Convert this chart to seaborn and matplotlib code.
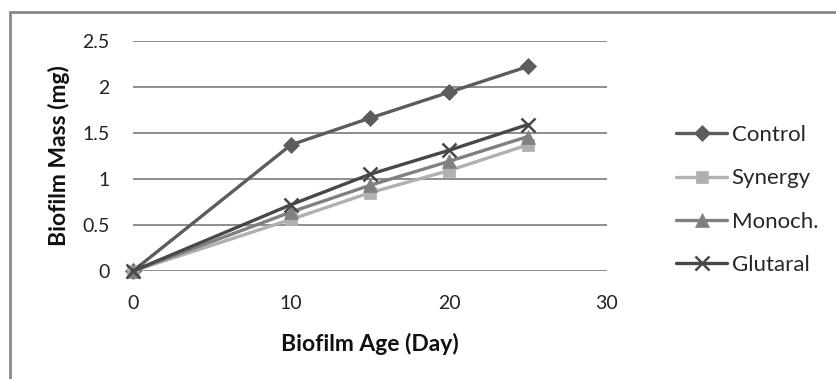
import matplotlib
matplotlib.use("Agg")
import matplotlib.pyplot as plt
from matplotlib.patches import Rectangle
import seaborn as sns
import pandas as pd

days = [0, 10, 15, 20, 25]
control = [0, 1.37, 1.66, 1.94, 2.22]
synergy = [0, 0.56, 0.85, 1.09, 1.37]
monoch = [0, 0.64, 0.93, 1.19, 1.46]
glutaral = [0, 0.72, 1.05, 1.31, 1.59]
series_names = ["Control", "Synergy", "Monoch.", "Glutaral"]

sns.set_theme(style="white")
plt.rcParams['font.family'] = ['Lato', 'DejaVu Sans']

df = pd.concat([
    pd.DataFrame({"Day": days, "Mass": vals, "Series": name})
    for name, vals in zip(series_names, [control, synergy, monoch, glutaral])
])

colors = {"Control": "#5c5c5c", "Synergy": "#b0b0b0", "Monoch.": "#808080", "Glutaral": "#484848"}
markers = {"Control": "D", "Synergy": "s", "Monoch.": "^", "Glutaral": "x"}
msizes = {"Control": 8.5, "Synergy": 9, "Monoch.": 10, "Glutaral": 10}

fig = plt.figure(figsize=(8.36, 3.79), dpi=100)
ax = fig.add_axes([133/836, 1-271/379, (607-133)/836, (271-40.7)/379])

for name in series_names:
    sub = df[df["Series"] == name]
    sns.lineplot(data=sub, x="Day", y="Mass", ax=ax, color=colors[name],
                 marker=markers[name], markersize=msizes[name], linewidth=2.4,
                 markeredgewidth=1.8 if name == "Glutaral" else 0.5,
                 markeredgecolor=colors[name], label=name, clip_on=False)

ax.set_xlim(0, 30)
ax.set_ylim(0, 2.5)
ax.set_xticks([0, 10, 20, 30])
ax.set_yticks([0, 0.5, 1, 1.5, 2, 2.5])
ax.set_yticklabels(["0", "0.5", "1", "1.5", "2", "2.5"])
ax.grid(axis="y", color="#7a7a7a", linewidth=1.2)
ax.grid(axis="x", visible=False)
for s in ax.spines.values():
    s.set_visible(False)
ax.tick_params(axis="both", length=0, labelsize=14, colors="#222222")
ax.tick_params(axis="y", pad=17)
ax.tick_params(axis="x", pad=17)
ax.set_xlabel("Biofilm Age (Day)", fontsize=16.5, fontweight="bold", color="#111111")
ax.set_ylabel("Biofilm Mass (mg)", fontsize=16.5, fontweight="bold", color="#111111")
ax.xaxis.set_label_coords(0.5, (271 - 333) / 230.3)
ax.yaxis.set_label_coords((70 - 133) / 474, 0.5)

leg = ax.legend(loc="center left", bbox_to_anchor=(656/836, 1 - 200/379), bbox_transform=fig.transFigure,
                frameon=False, fontsize=16, handlelength=2.3, handletextpad=0.2, labelspacing=1.05)

fig.patches.append(Rectangle((10/836, -0.1), 1.0, 1 - 12/379 + 0.1, transform=fig.transFigure,
                             fill=False, edgecolor="#8a8a8a", linewidth=2))

fig.savefig("out.png", dpi=100)
